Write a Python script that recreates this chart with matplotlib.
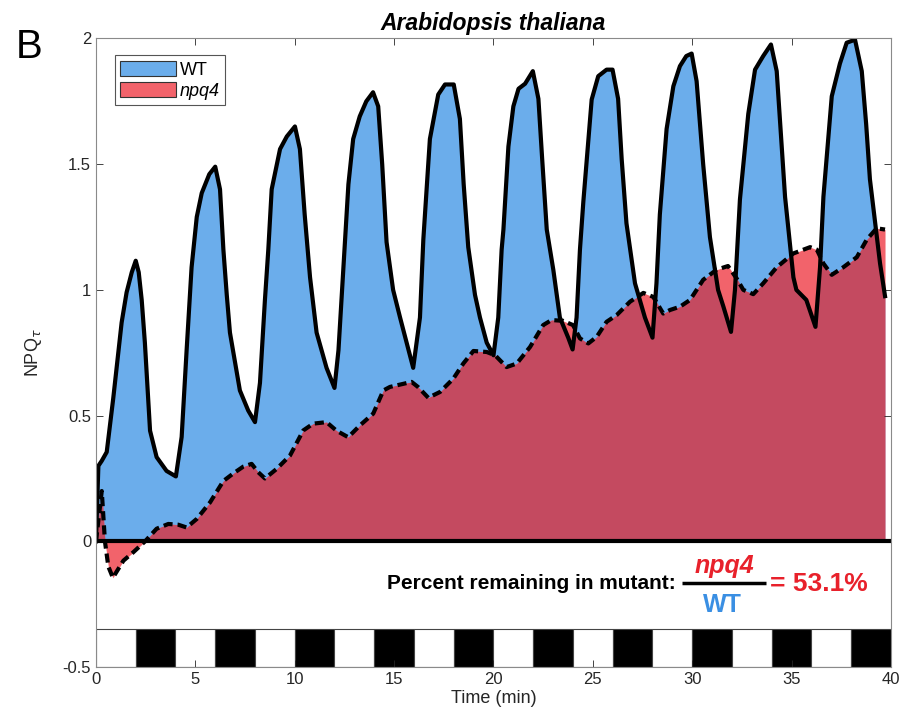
import numpy as np
import matplotlib.pyplot as plt
from matplotlib.patches import Patch

plt.rcParams['font.family'] = ['Liberation Sans', 'DejaVu Sans']

# WT trace (time in min, NPQ)
t_wt = [0.0, 0.12, 0.29, 0.54, 0.87, 1.29, 1.54, 1.8, 2.0, 2.15, 2.3, 2.46, 2.72, 3.05, 3.55, 4.02,
        4.31, 4.56, 4.81, 5.07, 5.32, 5.7, 6.0, 6.24, 6.41, 6.58, 6.74, 7.24, 7.66, 8.0,
        8.25, 8.5, 8.67, 8.84, 9.26, 9.6, 10.01, 10.26, 10.5, 10.77, 11.1, 11.6, 12.0,
        12.2, 12.45, 12.7, 12.94, 13.27, 13.6, 13.94, 14.2, 14.4, 14.62, 14.95, 15.3, 15.96,
        16.3, 16.47, 16.8, 17.22, 17.56, 18.0, 18.31, 18.5, 18.73, 19.07, 19.32, 19.66, 20.0,
        20.24, 20.41, 20.5, 20.75, 21.0, 21.26, 21.59, 21.98, 22.26, 22.45, 22.68, 23.01, 23.34, 23.76, 23.98,
        24.18, 24.35, 24.52, 24.94, 25.27, 25.69, 25.99, 26.27, 26.45, 26.69, 27.12, 27.62, 28.0,
        28.2, 28.37, 28.71, 29.05, 29.38, 29.7, 29.97, 30.22, 30.55, 30.89, 31.3, 31.57, 31.95,
        32.15, 32.4, 32.82, 33.16, 33.57, 33.96, 34.25, 34.45, 34.67, 35.09, 35.24, 35.74, 36.2,
        36.43, 36.6, 37.02, 37.43, 37.77, 38.19, 38.53, 38.75, 38.94, 39.45, 39.7]
wt = [0.0, 0.30, 0.32, 0.355, 0.57, 0.87, 0.99, 1.07, 1.116, 1.07, 0.96, 0.79, 0.44, 0.335, 0.28, 0.258,
      0.415, 0.76, 1.09, 1.29, 1.385, 1.46, 1.49, 1.40, 1.16, 0.98, 0.83, 0.6, 0.52, 0.474,
      0.63, 0.96, 1.16, 1.40, 1.56, 1.61, 1.65, 1.56, 1.30, 1.05, 0.83, 0.69, 0.61,
      0.76, 1.09, 1.42, 1.6, 1.69, 1.75, 1.786, 1.73, 1.50, 1.19, 1.0, 0.89, 0.69,
      0.89, 1.2, 1.60, 1.777, 1.817, 1.817, 1.68, 1.42, 1.17, 0.98, 0.89, 0.79, 0.74,
      0.89, 1.16, 1.24, 1.57, 1.73, 1.80, 1.82, 1.87, 1.76, 1.52, 1.24, 1.08, 0.89, 0.81, 0.763,
      0.89, 1.16, 1.35, 1.757, 1.85, 1.876, 1.876, 1.76, 1.52, 1.265, 1.026, 0.89, 0.81,
      1.026, 1.3, 1.64, 1.81, 1.89, 1.93, 1.94, 1.83, 1.50, 1.21, 1.0, 0.933, 0.833,
      1.0, 1.36, 1.70, 1.876, 1.93, 1.976, 1.87, 1.63, 1.37, 1.05, 1.0, 0.96, 0.853,
      1.09, 1.37, 1.77, 1.90, 1.983, 1.995, 1.87, 1.66, 1.44, 1.105, 0.975]

# npq4 trace
t_npq = [0.0, 0.29, 0.45, 0.62, 0.85, 1.38, 1.87, 2.47, 3.05, 3.64, 4.14, 4.56, 5.07, 5.74,
         6.41, 6.91, 7.41, 7.83, 8.16, 8.5, 9.09, 9.76, 10.43, 10.93, 11.6, 12.1, 12.69,
         13.28, 13.95, 14.46, 14.79, 15.88, 16.2, 16.72, 17.31, 17.98, 18.48, 18.99, 19.66,
         20.08, 20.66, 21.17, 21.84, 22.5, 22.92, 23.5, 24.0, 24.35, 24.77, 25.19, 25.69,
         26.2, 26.87, 27.54, 28.04, 28.54, 28.88, 29.38, 29.89, 30.55, 31.22, 31.8, 32.23,
         32.57, 33.07, 33.57, 34.25, 35.09, 35.93, 36.27, 36.6, 37.02, 37.6, 38.28, 38.78,
         39.28, 39.7]
npq = [0.0, 0.2, 0.0, -0.1, -0.145, -0.077, -0.044, 0.0, 0.05, 0.069, 0.066, 0.055, 0.089, 0.155,
       0.24, 0.27, 0.297, 0.308, 0.275, 0.25, 0.288, 0.341, 0.441, 0.468, 0.474, 0.44, 0.414,
       0.461, 0.508, 0.60, 0.614, 0.634, 0.614, 0.571, 0.594, 0.647, 0.707, 0.757, 0.753,
       0.74, 0.693, 0.707, 0.773, 0.86, 0.88, 0.877, 0.86, 0.807, 0.787, 0.813, 0.873,
       0.90, 0.953, 0.988, 0.972, 0.906, 0.92, 0.933, 0.96, 1.04, 1.08, 1.095, 1.046,
       1.0, 0.983, 1.026, 1.09, 1.145, 1.17, 1.16, 1.105, 1.06, 1.09, 1.13, 1.2,
       1.245, 1.24]

# light (0) / dark (1) periods, 2 min each
period_starts = np.arange(0, 40, 2)
period_dark = [i % 2 for i in range(20)]

blue = '#6BADEB'
red_light = '#F2636B'
red_dark = '#C44A60'
red_txt = '#E8212B'
blue_txt = '#3A8FE3'

fig = plt.figure(figsize=(9.03, 7.19), dpi=100)
ax = fig.add_axes([0.1063, 0.0723, 0.8804, 0.8742])

wt_fill = ax.fill_between(t_wt, 0, wt, color=blue, lw=0)
ax.fill_between(t_npq, 0, npq, color=red_light, lw=0)
overlap = ax.fill_between(t_npq, 0, npq, color=red_dark, lw=0)
overlap.set_clip_path(wt_fill.get_paths()[0], ax.transData)

ax.plot(t_wt, wt, color='black', lw=3, solid_joinstyle='round')
ax.plot(t_npq, npq, color='black', lw=3, ls=(0, (2.2, 1.2)))
ax.plot([0, 40], [0, 0], color='black', lw=3, solid_capstyle='butt')

# light/dark bar
ax.bar(period_starts, 0.152, width=2, bottom=-0.5, align='edge',
       color=['black' if d else 'white' for d in period_dark],
       edgecolor='#444444', lw=0.8)

ax.set_xlim(0, 40)
ax.set_ylim(-0.5, 2)
ax.set_xticks(np.arange(0, 41, 5))
ax.set_yticks([-0.5, 0, 0.5, 1, 1.5, 2])
ax.set_yticklabels(['-0.5', '0', '0.5', '1', '1.5', '2'])
ax.tick_params(direction='in', top=True, right=True, labelsize=12, colors='#262626',
               length=5, width=0.6)
for s in ax.spines.values():
    s.set_color('#8a8a8a')
    s.set_linewidth(0.8)

ax.set_xlabel('Time (min)', fontsize=13, color='#262626', labelpad=2)
ax.set_ylabel(r'NPQ$_\tau$', fontsize=13, color='#262626')
ax.yaxis.set_label_coords(-0.065, 0.5)
ax.set_title('Arabidopsis thaliana', fontsize=16.5, fontweight='bold', style='italic', pad=6)

fig.text(0.017, 0.919, 'B', fontsize=29, va='baseline')

handles = [Patch(facecolor=blue, edgecolor='#333333', lw=0.8, label='WT'),
           Patch(facecolor=red_light, edgecolor='#333333', lw=0.8, label='npq4')]
leg = ax.legend(handles=handles, loc='upper left', bbox_to_anchor=(0.024, 0.973),
                fontsize=13, fancybox=False, edgecolor='#555555', framealpha=1,
                handlelength=3.1, handleheight=0.9, handletextpad=0.2,
                borderpad=0.3, labelspacing=0.2, borderaxespad=0)
leg.get_frame().set_linewidth(0.8)
leg.get_texts()[1].set_style('italic')

# percent remaining annotation
ax.text(29.18, -0.169, 'Percent remaining in mutant:', ha='right', va='center',
        fontsize=15, fontweight='bold')
ax.text(31.6, -0.10, 'npq4', ha='center', va='center',
        fontsize=18, fontweight='bold', style='italic', color=red_txt)
ax.plot([29.48, 33.71], [-0.167, -0.167], color='black', lw=2.5, solid_capstyle='butt')
ax.text(31.5, -0.255, 'WT', ha='center', va='center',
        fontsize=18, fontweight='bold', color=blue_txt)
ax.text(33.9, -0.171, '= 53.1%', ha='left', va='center',
        fontsize=19, fontweight='bold', color=red_txt)

fig.savefig('out.png', dpi=100)
